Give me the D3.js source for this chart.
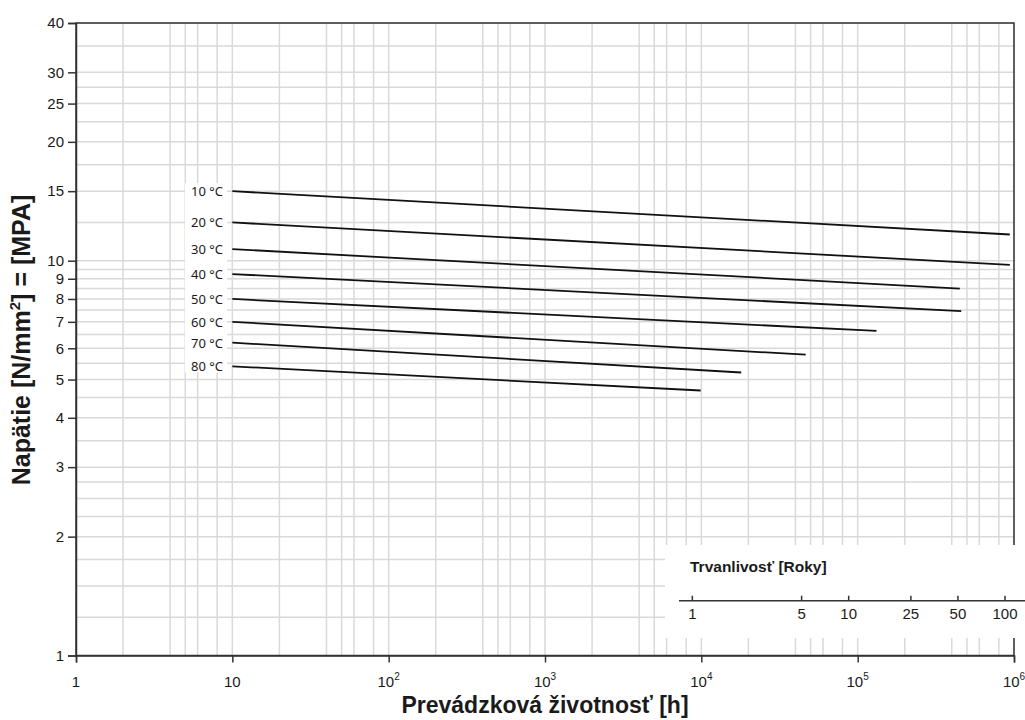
<!DOCTYPE html>
<html>
<head>
<meta charset="utf-8">
<script src="https://cdn.jsdelivr.net/npm/d3@7"></script>
<style>
  html, body { margin: 0; padding: 0; background: #fff; }
  svg { display: block; }
</style>
</head>
<body>
<svg id="chart" width="1025" height="720"></svg>
<script>
// Creep curves: stress vs. service life, one line per temperature
const temperatures = ["10 °C", "20 °C", "30 °C", "40 °C", "50 °C", "60 °C", "70 °C", "80 °C"];
const startHours   = [10, 10, 10, 10, 10, 10, 10, 10];
const startStress  = [15.0, 12.5, 10.7, 9.25, 8.0, 7.0, 6.2, 5.4];
const endHours     = [9.4e5, 9.4e5, 4.5e5, 4.6e5, 1.32e5, 4.65e4, 1.8e4, 9.9e3];
const endStress    = [11.65, 9.76, 8.5, 7.45, 6.64, 5.78, 5.21, 4.69];

// Axis ticks and grid
const xTickExponents = [0, 1, 2, 3, 4, 5, 6];
const yTickValues = [1, 2, 3, 4, 5, 6, 7, 8, 9, 10, 15, 20, 25, 30, 40];
const yGridValues = [1.25, 1.5, 1.75, 2, 2.25, 2.5, 2.75, 3, 3.5, 4, 4.5, 5, 5.5, 6, 6.5, 7, 7.5,
                     8, 8.5, 9, 9.5, 10, 12.5, 15, 17.5, 20, 22.5, 25, 27.5, 30, 35, 40];
const xGridMultipliers = [2, 4, 5, 6, 8, 10];

// Durability scale in years
const yearTicks = [1, 5, 10, 25, 50, 100];
const hoursPerYear = 8760;

const svg = d3.select("#chart");
const plotLeft = 76, plotRight = 1014, plotTop = 23, plotBottom = 655.5;

const x = d3.scaleLog().domain([1, 1e6]).range([plotLeft, plotRight]);
const y = d3.scaleLog().domain([1, 40]).range([plotBottom, plotTop]);

const gridColor = "#d9d9d9";
const axisColor = "#333";
const textColor = "#1a1a1a";
const font = "'Liberation Sans', Arial, sans-serif";

// grid
const grid = svg.append("g");
const xGridValues = [];
for (let e = 0; e < 6; e++) {
  xGridMultipliers.forEach(m => xGridValues.push(m * Math.pow(10, e)));
}
grid.selectAll("line.vx").data(xGridValues).join("line")
  .attr("x1", d => x(d)).attr("x2", d => x(d))
  .attr("y1", plotTop).attr("y2", plotBottom)
  .attr("stroke", gridColor).attr("stroke-width", 1.5);
grid.selectAll("line.hy").data(yGridValues).join("line")
  .attr("x1", plotLeft).attr("x2", plotRight)
  .attr("y1", d => y(d)).attr("y2", d => y(d))
  .attr("stroke", gridColor).attr("stroke-width", 1.5);

// frame
svg.append("rect")
  .attr("x", plotLeft).attr("y", plotTop)
  .attr("width", plotRight - plotLeft).attr("height", plotBottom - plotTop)
  .attr("fill", "none").attr("stroke", axisColor).attr("stroke-width", 1.5);

// y axis
const yAxis = svg.append("g").attr("transform", `translate(${plotLeft},0)`)
  .call(d3.axisLeft(y).tickValues(yTickValues).tickFormat(d3.format("d")).tickSize(8).tickPadding(4));
yAxis.select(".domain").attr("stroke", axisColor).attr("stroke-width", 1.5);
yAxis.selectAll(".tick line").attr("stroke", axisColor).attr("stroke-width", 1.5);
yAxis.selectAll(".tick text").attr("font-family", font).attr("font-size", 15).attr("fill", textColor);

// x axis with power-of-ten labels
const xAxis = svg.append("g").attr("transform", `translate(0,${plotBottom})`)
  .call(d3.axisBottom(x).tickValues(xTickExponents.map(e => Math.pow(10, e))).tickFormat("").tickSize(7));
xAxis.select(".domain").attr("stroke", axisColor).attr("stroke-width", 1.5);
xAxis.selectAll(".tick line").attr("stroke", axisColor).attr("stroke-width", 1.5);
const xLabels = svg.append("g");
xTickExponents.forEach(e => {
  const t = xLabels.append("text")
    .attr("x", x(Math.pow(10, e))).attr("y", plotBottom + 31)
    .attr("text-anchor", "middle")
    .attr("font-family", font).attr("font-size", 15).attr("fill", textColor);
  if (e === 0) t.text("1");
  else if (e === 1) t.text("10");
  else {
    t.append("tspan").text("10");
    t.append("tspan").attr("font-size", 10).attr("dy", -7).text(e);
  }
});

// axis titles
svg.append("text")
  .attr("x", 545).attr("y", 713)
  .attr("text-anchor", "middle")
  .attr("font-family", font).attr("font-size", 23).attr("font-weight", "bold").attr("fill", textColor)
  .text("Prevádzková životnosť [h]");

const yTitle = svg.append("text")
  .attr("transform", "translate(30,340) rotate(-90)")
  .attr("text-anchor", "middle")
  .attr("font-family", font).attr("font-size", 25).attr("font-weight", "bold").attr("fill", textColor);
yTitle.append("tspan").text("Napätie [N/mm");
yTitle.append("tspan").attr("font-size", 15).attr("dy", -10).text("2");
yTitle.append("tspan").attr("dy", 10).text("] = [MPA]");

// label background
const labelX = 223;
svg.append("rect")
  .attr("x", 185).attr("y", y(startStress[0]) - 8)
  .attr("width", 42)
  .attr("height", y(startStress[startStress.length - 1]) - y(startStress[0]) + 14)
  .attr("fill", "#fff");

// curves
const lines = svg.append("g");
temperatures.forEach((t, i) => {
  lines.append("line")
    .attr("x1", x(startHours[i])).attr("y1", y(startStress[i]))
    .attr("x2", x(endHours[i])).attr("y2", y(endStress[i]))
    .attr("stroke", "#111").attr("stroke-width", 1.8);
  lines.append("text")
    .attr("x", labelX).attr("y", y(startStress[i]) + 1.5)
    .attr("text-anchor", "end").attr("dominant-baseline", "middle")
    .attr("font-family", "'Noto Sans', 'Open Sans', sans-serif").attr("font-size", 13).attr("fill", textColor)
    .text(t);
});

// durability inset
const inset = svg.append("g");
inset.append("rect")
  .attr("x", 665).attr("y", 545).attr("width", 360).attr("height", 93)
  .attr("fill", "#fff");
const axisY = 600.7;
inset.append("line")
  .attr("x1", 679).attr("x2", 1025).attr("y1", axisY).attr("y2", axisY)
  .attr("stroke", axisColor).attr("stroke-width", 1.5);
inset.selectAll("line.yt").data(yearTicks).join("line")
  .attr("x1", d => x(d * hoursPerYear)).attr("x2", d => x(d * hoursPerYear))
  .attr("y1", axisY).attr("y2", axisY - 5)
  .attr("stroke", axisColor).attr("stroke-width", 1.5);
inset.selectAll("text.yl").data(yearTicks).join("text")
  .attr("x", d => x(d * hoursPerYear)).attr("y", axisY + 18)
  .attr("text-anchor", "middle")
  .attr("font-family", font).attr("font-size", 15).attr("fill", textColor)
  .text(d => d);
inset.append("text")
  .attr("x", 690).attr("y", 572)
  .attr("font-family", font).attr("font-size", 15.5).attr("font-weight", "bold").attr("fill", textColor)
  .text("Trvanlivosť [Roky]");
</script>
</body>
</html>
